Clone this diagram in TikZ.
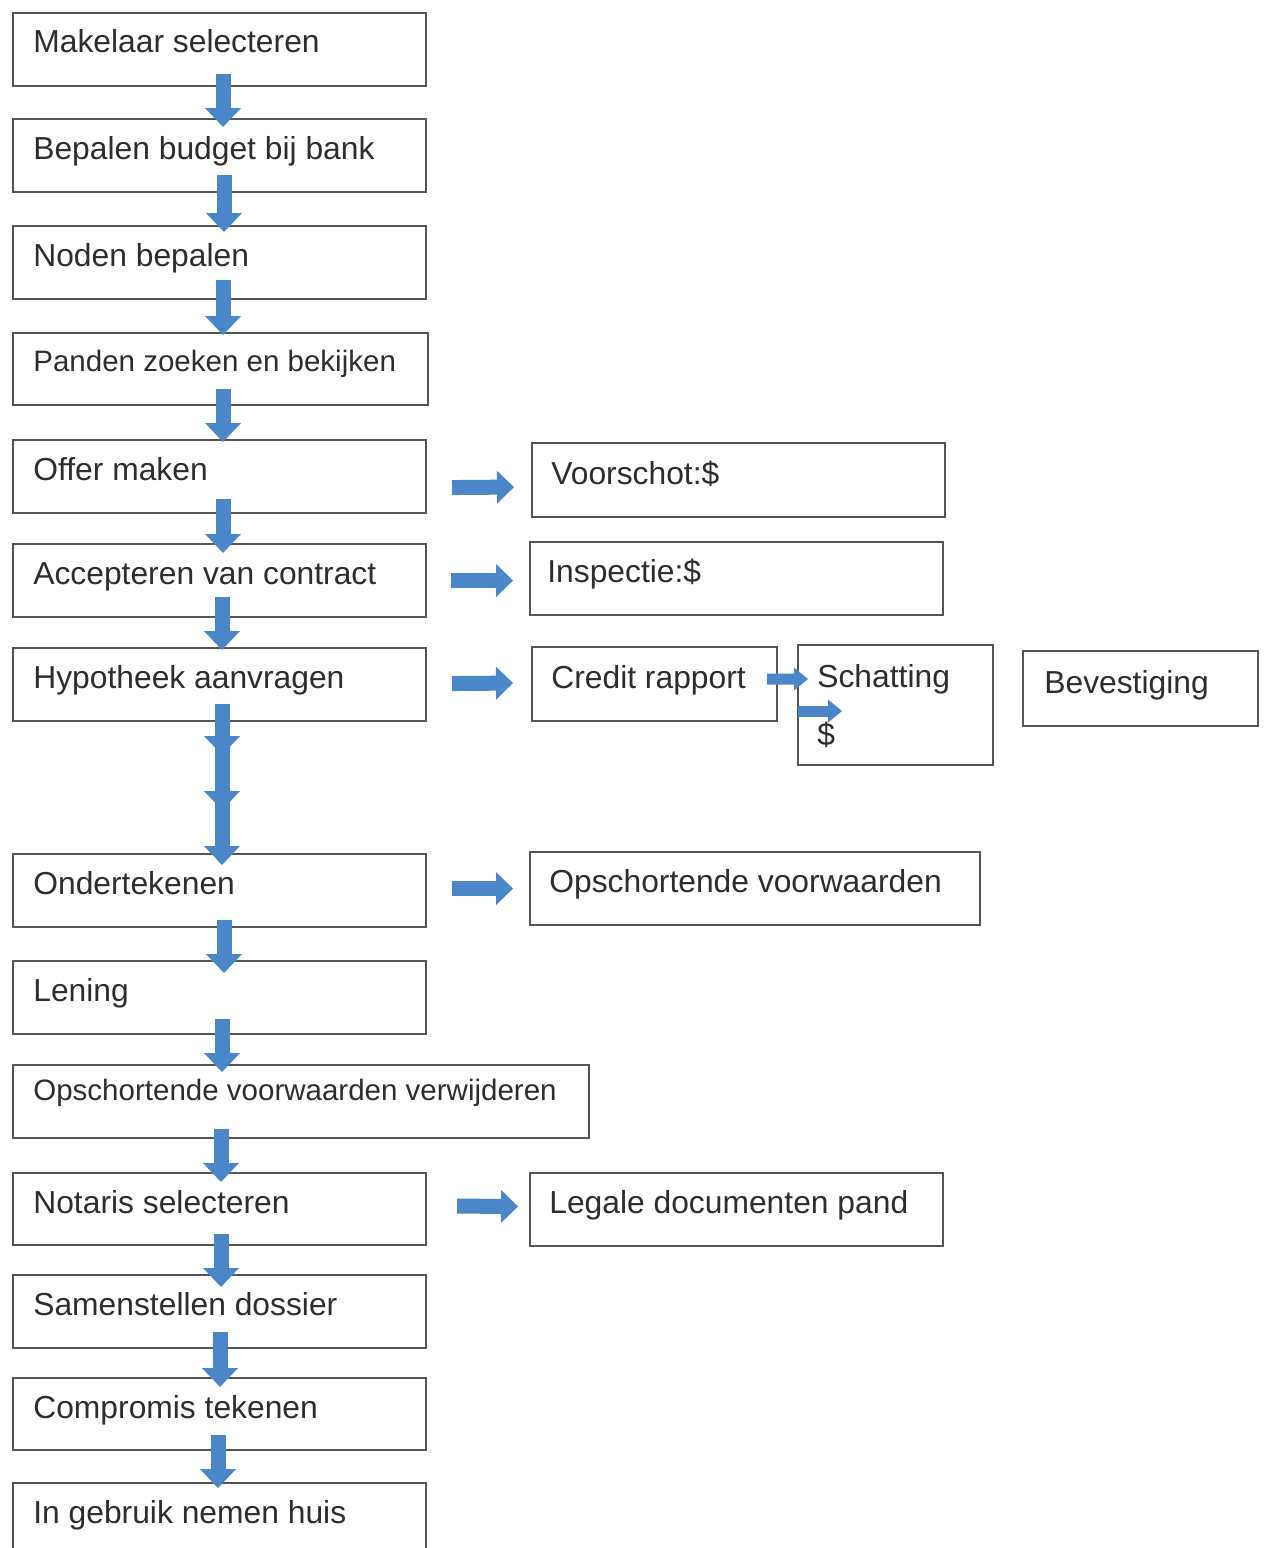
\documentclass[tikz,border=0pt]{standalone}
\usepackage{fontspec}
\setmainfont{Liberation Sans}
\usetikzlibrary{arrows.meta}
\definecolor{flowblue}{RGB}{74,134,200}
\definecolor{boxgray}{RGB}{85,85,85}
\definecolor{textgray}{RGB}{45,45,45}
\tikzset{
  stepbox/.style={draw=boxgray, line width=1.2pt, anchor=north west, inner sep=0pt,
    minimum width=8.26cm, minimum height=1.46cm},
  boxtext/.style={anchor=base west, inner sep=0pt, text=textgray,
    font=\fontsize{18.1}{22}\selectfont},
  smalltext/.style={boxtext, font=\fontsize{16.8}{20}\selectfont},
  downflow/.style={draw=flowblue, line width=0.3cm,
    -{Triangle[width=0.72cm,length=0.38cm,line width=0pt]}},
  sideflow/.style={draw=flowblue, line width=0.3cm,
    -{Triangle[width=0.66cm,length=0.34cm,line width=0pt]}},
  tinyflow/.style={draw=flowblue, line width=0.22cm,
    -{Triangle[width=0.46cm,length=0.28cm,line width=0pt]}}
}
\begin{document}
\begin{tikzpicture}[x=0.02cm, y=-0.02cm]
  \useasboundingbox (0,0) rectangle (1264,1548);

  % main column
  \node[stepbox, label={[boxtext, shift={(21,41)}]north west:Makelaar selecteren}] (makelaar) at (12,12) {};
  \node[stepbox, label={[boxtext, shift={(21,41)}]north west:Bepalen budget bij bank}] (budget) at (12,118) {};
  \node[stepbox, label={[boxtext, shift={(21,41)}]north west:Noden bepalen}] (noden) at (12,225) {};
  \node[stepbox, minimum width=8.30cm, minimum height=1.44cm,
    label={[smalltext, shift={(21,39)}]north west:Panden zoeken en bekijken}] (panden) at (12,332) {};
  \node[stepbox, label={[boxtext, shift={(21,41)}]north west:Offer maken}] (offer) at (12,439) {};
  \node[stepbox, label={[boxtext, shift={(21,41)}]north west:Accepteren van contract}] (accept) at (12,543) {};
  \node[stepbox, label={[boxtext, shift={(21,41)}]north west:Hypotheek aanvragen}] (hypo) at (12,647) {};
  \node[stepbox, label={[boxtext, shift={(21,41)}]north west:Ondertekenen}] (onder) at (12,853) {};
  \node[stepbox, label={[boxtext, shift={(21,41)}]north west:Lening}] (lening) at (12,960) {};
  \node[stepbox, minimum width=11.52cm,
    label={[smalltext, shift={(21,36)}]north west:Opschortende voorwaarden verwijderen}] (verwijder) at (12,1064) {};
  \node[stepbox, minimum height=1.44cm, label={[boxtext, shift={(21,41)}]north west:Notaris selecteren}] (notaris) at (12,1172) {};
  \node[stepbox, label={[boxtext, shift={(21,41)}]north west:Samenstellen dossier}] (dossier) at (12,1274) {};
  \node[stepbox, minimum height=1.44cm, label={[boxtext, shift={(21,41)}]north west:Compromis tekenen}] (compromis) at (12,1377) {};
  \node[stepbox, label={[boxtext, shift={(21,41)}]north west:In gebruik nemen huis}] (huis) at (12,1482) {};

  % side boxes
  \node[stepbox, minimum height=1.48cm, label={[boxtext, shift={(20,42)}]north west:Voorschot:\$}] (voorschot) at (531,442) {};
  \node[stepbox, label={[boxtext, shift={(18,41)}]north west:Inspectie:\$}] (inspectie) at (529,541) {};
  \node[stepbox, minimum width=4.9cm, minimum height=1.48cm,
    label={[boxtext, shift={(20,42)}]north west:Credit rapport}] (credit) at (531,646) {};
  \node[stepbox, minimum width=3.9cm, minimum height=2.4cm,
    label={[boxtext, shift={(20,43)}]north west:Schatting},
    label={[boxtext, shift={(20,101)}]north west:\$}] (schatting) at (797,644) {};
  \node[stepbox, minimum width=4.7cm, minimum height=1.5cm,
    label={[boxtext, shift={(22,43)}]north west:Bevestiging}] (bevest) at (1022,650) {};
  \node[stepbox, minimum width=9.0cm, label={[boxtext, shift={(20,41)}]north west:Opschortende voorwaarden}] (opschort) at (529,851) {};
  \node[stepbox, label={[boxtext, shift={(20,41)}]north west:Legale documenten pand}] (legaal) at (529,1172) {};

  % down arrows
  \foreach \a/\b/\dx/\s/\e in {makelaar/budget/211/-13/9, budget/noden/212/-18/7,
      noden/panden/211/-20/3, panden/offer/211/-17/3, offer/accept/211/-15/10,
      accept/hypo/210/-21/3, onder/lening/212/-8/13, lening/verwijder/210/-16/8,
      verwijder/notaris/209/-10/10, notaris/dossier/209/-12/13,
      dossier/compromis/208/-17/10, compromis/huis/206/-16/6}
    \draw[downflow] ([shift={(\dx,\s)}]\a.south west) -- ([shift={(\dx,\e)}]\b.north west);

  % three arrows between Hypotheek and Ondertekenen
  \coordinate (mid1) at (222,755);
  \coordinate (mid2) at (222,810);
  \draw[downflow] ([shift={(210,-18)}]hypo.south west) -- (mid1);
  \draw[downflow] ([shift={(0,-10)}]mid1) -- (mid2);
  \draw[downflow] ([shift={(0,-10)}]mid2) -- ([shift={(210,12)}]onder.north west);

  % side arrows
  \draw[sideflow] ([shift={(25,11)}]offer.east) -- ([shift={(-17,7)}]voorschot.west);
  \draw[sideflow] ([shift={(24,0)}]accept.east) -- ([shift={(-16,2)}]inspectie.west);
  \draw[sideflow] ([shift={(25,-1)}]hypo.east) -- ([shift={(-18,-1)}]credit.west);
  \draw[tinyflow] ([shift={(-11,-5)}]credit.east) -- ([shift={(11,-26)}]schatting.west);
  \coordinate (schatpijl) at ([shift={(45,6)}]schatting.west);
  \draw[tinyflow] ([shift={(1,6)}]schatting.west) -- (schatpijl);
  \draw[sideflow] ([shift={(25,-2)}]onder.east) -- ([shift={(-16,0)}]opschort.west);
  \draw[sideflow] ([shift={(30,-3)}]notaris.east) -- ([shift={(-11,-3)}]legaal.west);
\end{tikzpicture}
\end{document}
